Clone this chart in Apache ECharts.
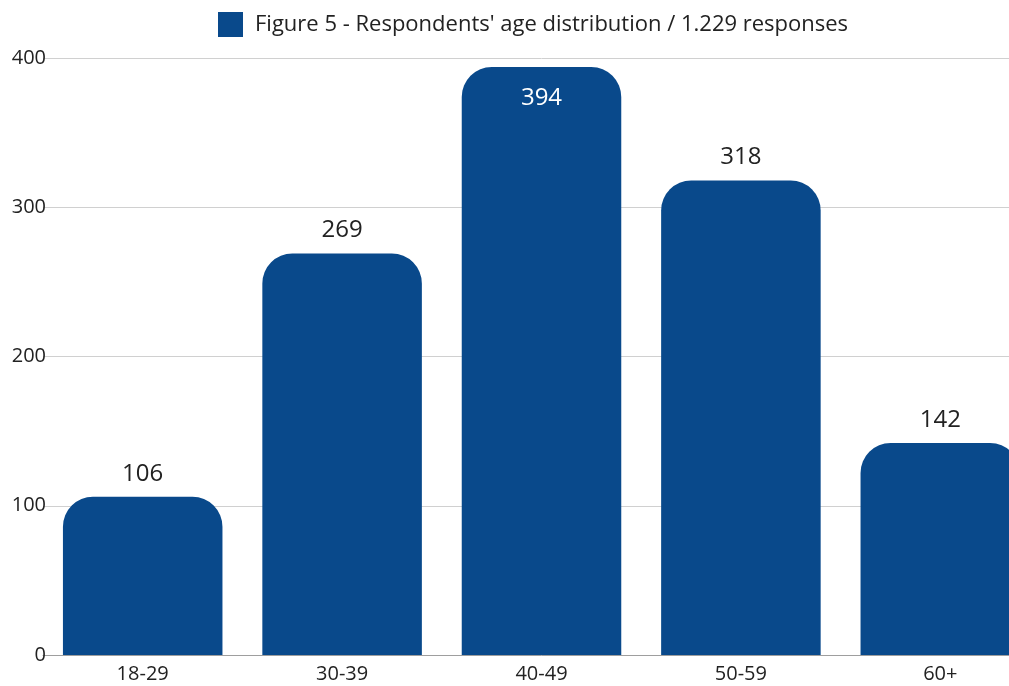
<!DOCTYPE html>
<html>
<head>
<meta charset="utf-8">
<script src="https://cdn.jsdelivr.net/npm/echarts@6/dist/echarts.min.js"></script>
<style>
  html, body { margin: 0; padding: 0; background: #fff; overflow: hidden; }
  /* 图表比窗口宽，最后一根柱子被右边裁掉 */
  #chart { width: 1040px; height: 686px; }
</style>
</head>
<body>
<div id="chart"></div>
<script>
// 数据
var series_name = "Figure 5 - Respondents' age distribution / 1.229 responses";
var age_groups = ['18-29', '30-39', '40-49', '50-59', '60+'];
var responses = [106, 269, 394, 318, 142];

var bar_color = '#09498b';
var font = '"Open Sans", "Noto Sans", sans-serif';

// 最高的柱子标签放在柱内
var bar_data = [];
for (var i = 0; i < responses.length; i++) {
    var item = { value: responses[i] };
    if (responses[i] == Math.max.apply(null, responses)) {
        item.label = { position: 'insideTop', color: '#fff', distance: 19 };
    }
    bar_data.push(item);
}

var chart = echarts.init(document.getElementById('chart'));
var option = {
    animation: false,
    legend: {
        data: [series_name],
        left: 213,
        top: 7,
        itemWidth: 25,
        itemHeight: 25,
        icon: 'rect',
        textStyle: {
            fontFamily: font,
            fontSize: 22,
            color: '#222',
            padding: [0, 0, 0, 7]
        }
    },
    grid: {
        left: 43,
        top: 58,
        width: 997,
        bottom: 31,
        containLabel: false
    },
    xAxis: {
        type: 'category',
        data: age_groups,
        axisTick: { show: false },
        axisLine: { lineStyle: { color: '#9e9e9e', width: 1 } },
        axisLabel: {
            fontFamily: font,
            fontSize: 20,
            color: '#222',
            margin: 9
        }
    },
    yAxis: {
        type: 'value',
        min: 0,
        max: 400,
        interval: 100,
        axisLine: { show: false },
        axisTick: { show: false },
        splitLine: { lineStyle: { color: '#d0d0d0' } },
        axisLabel: {
            fontFamily: font,
            fontSize: 20,
            color: '#222',
            margin: -3
        }
    },
    series: [
        {
            name: series_name,
            type: 'bar',
            data: bar_data,
            barCategoryGap: '20%',
            itemStyle: {
                color: bar_color,
                borderRadius: [30, 30, 0, 0]
            },
            label: {
                show: true,
                position: 'top',
                distance: 11,
                fontFamily: font,
                fontSize: 24,
                color: '#222'
            }
        }
    ]
};
chart.setOption(option, true);
</script>
</body>
</html>
